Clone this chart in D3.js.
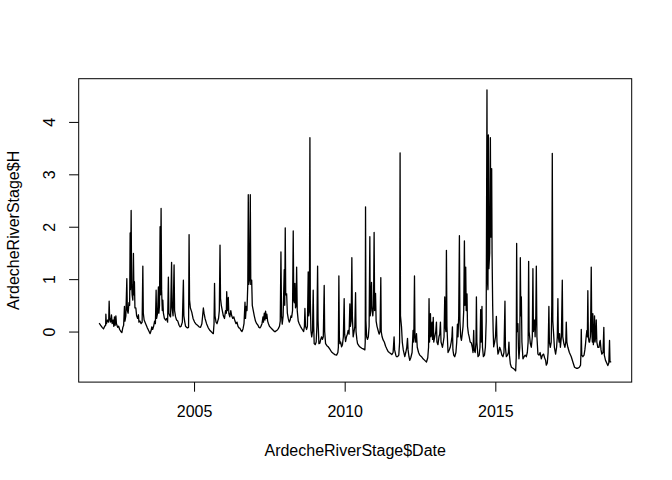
<meta charset="utf-8">
<title>Ardeche River Stage</title>
<script src="https://d3js.org/d3.v7.min.js"></script>
<style>
  body { margin: 0; background: #fff; }
  svg { display: block; font-family: "Liberation Sans", Arial, Helvetica, sans-serif; }
</style>
<body>
<svg width="672" height="480"></svg>
<script>

  // daily stage of the Ardeche (decimal years, metres)
  const dates = [
    2001.851, 2001.901, 2001.950, 2001.994, 2002.033, 2002.066, 2002.073, 2002.090, 2002.133, 2002.166,
    2002.182, 2002.199, 2002.232, 2002.259, 2002.282, 2002.315, 2002.338, 2002.358, 2002.381, 2002.405,
    2002.425, 2002.464, 2002.497, 2002.531, 2002.570, 2002.604, 2002.637, 2002.663, 2002.690, 2002.706,
    2002.736, 2002.769, 2002.786, 2002.812, 2002.839, 2002.862, 2002.879, 2002.889, 2002.912, 2002.928,
    2002.945, 2002.968, 2002.988, 2003.005, 2003.021, 2003.038, 2003.068, 2003.094, 2003.127, 2003.154,
    2003.170, 2003.204, 2003.243, 2003.277, 2003.300, 2003.316, 2003.343, 2003.393, 2003.442, 2003.492,
    2003.542, 2003.575, 2003.598, 2003.625, 2003.658, 2003.691, 2003.717, 2003.741, 2003.757, 2003.790,
    2003.817, 2003.833, 2003.853, 2003.873, 2003.886, 2003.906, 2003.923, 2003.946, 2003.963, 2003.983,
    2004.016, 2004.056, 2004.089, 2004.122, 2004.148, 2004.165, 2004.195, 2004.221, 2004.254, 2004.271,
    2004.304, 2004.337, 2004.354, 2004.387, 2004.420, 2004.460, 2004.503, 2004.536, 2004.569, 2004.612,
    2004.646, 2004.662, 2004.692,
    2004.719, 2004.752, 2004.785, 2004.818, 2004.835, 2004.851, 2004.878, 2004.924, 2004.967, 2005.017,
    2005.067, 2005.116, 2005.166, 2005.216, 2005.259, 2005.285, 2005.309, 2005.332, 2005.365, 2005.415,
    2005.464, 2005.514, 2005.564, 2005.614, 2005.640, 2005.663, 2005.680, 2005.696, 2005.730, 2005.763,
    2005.786, 2005.812, 2005.839, 2005.862, 2005.879, 2005.905, 2005.938, 2005.972, 2006.011, 2006.045,
    2006.071, 2006.084, 2006.104, 2006.137, 2006.154, 2006.187, 2006.220, 2006.250, 2006.286, 2006.320,
    2006.359, 2006.393, 2006.426, 2006.459, 2006.492, 2006.525, 2006.558, 2006.591, 2006.625, 2006.658,
    2006.691, 2006.708, 2006.734, 2006.757, 2006.784, 2006.800, 2006.817, 2006.843, 2006.867, 2006.883,
    2006.913, 2006.933, 2006.966, 2006.999, 2007.039, 2007.079, 2007.122, 2007.155, 2007.188, 2007.221,
    2007.255, 2007.288, 2007.304, 2007.331, 2007.354, 2007.374, 2007.397, 2007.417, 2007.443, 2007.470,
    2007.503, 2007.536, 2007.586, 2007.636, 2007.669,
    2007.702, 2007.735, 2007.768, 2007.801, 2007.835, 2007.861, 2007.884, 2007.904, 2007.927, 2007.957,
    2007.994, 2008.010, 2008.027, 2008.043, 2008.073, 2008.097, 2008.126, 2008.159, 2008.189, 2008.216,
    2008.239, 2008.269, 2008.292, 2008.309, 2008.329, 2008.348, 2008.368, 2008.388, 2008.405, 2008.425,
    2008.458, 2008.491, 2008.531, 2008.571, 2008.604, 2008.637, 2008.663, 2008.680, 2008.700, 2008.736,
    2008.763, 2008.789, 2008.806, 2008.829, 2008.846, 2008.859, 2008.879, 2008.905, 2008.932, 2008.955,
    2008.972, 2008.988, 2009.021, 2009.054, 2009.078, 2009.101, 2009.117, 2009.144, 2009.177, 2009.204,
    2009.234, 2009.260, 2009.290, 2009.320, 2009.336, 2009.366, 2009.409, 2009.452, 2009.502, 2009.565,
    2009.625, 2009.674, 2009.731, 2009.774, 2009.790, 2009.807, 2009.824, 2009.840, 2009.867, 2009.897,
    2009.926, 2009.956, 2009.983, 2009.999, 2010.029, 2010.059, 2010.089, 2010.115, 2010.145, 2010.172,
    2010.188, 2010.215, 2010.238, 2010.255, 2010.281, 2010.311, 2010.337, 2010.361, 2010.377, 2010.404,
    2010.427, 2010.470, 2010.520, 2010.570, 2010.619, 2010.669,
    2010.682, 2010.692, 2010.705, 2010.729, 2010.755, 2010.785, 2010.811, 2010.835, 2010.848, 2010.868,
    2010.891, 2010.908, 2010.934, 2010.957, 2010.977, 2010.994, 2011.024, 2011.044, 2011.073, 2011.110,
    2011.143, 2011.173, 2011.199, 2011.213, 2011.242, 2011.276, 2011.315, 2011.358, 2011.398, 2011.441,
    2011.481, 2011.524, 2011.564, 2011.607, 2011.640, 2011.657, 2011.697, 2011.720, 2011.756, 2011.796,
    2011.823, 2011.839, 2011.852, 2011.886, 2011.912, 2011.945, 2011.972, 2011.995, 2012.028, 2012.061,
    2012.085, 2012.104, 2012.134, 2012.161, 2012.194, 2012.237, 2012.270, 2012.293, 2012.317, 2012.333,
    2012.360, 2012.383, 2012.409, 2012.452, 2012.492, 2012.549, 2012.602, 2012.658, 2012.714, 2012.757,
    2012.784, 2012.800, 2012.817, 2012.847, 2012.863, 2012.883, 2012.900, 2012.917, 2012.940, 2012.956,
    2012.989, 2013.023, 2013.046, 2013.062, 2013.096, 2013.129, 2013.155, 2013.178, 2013.198, 2013.222,
    2013.245, 2013.275, 2013.298, 2013.321, 2013.338, 2013.361, 2013.377, 2013.394, 2013.430, 2013.470,
    2013.503, 2013.536, 2013.560, 2013.576, 2013.593, 2013.619, 2013.652,
    2013.692, 2013.719, 2013.742, 2013.762, 2013.785, 2013.808, 2013.825, 2013.851, 2013.875, 2013.901,
    2013.928, 2013.951, 2013.974, 2013.991, 2014.017, 2014.034, 2014.060, 2014.077, 2014.107, 2014.133,
    2014.166, 2014.206, 2014.236, 2014.259, 2014.282, 2014.299, 2014.332, 2014.359, 2014.372, 2014.388,
    2014.425, 2014.465, 2014.491, 2014.514, 2014.531, 2014.557, 2014.574, 2014.604, 2014.640, 2014.670,
    2014.697, 2014.723, 2014.736, 2014.756, 2014.770, 2014.786, 2014.813, 2014.836, 2014.852, 2014.879,
    2014.892, 2014.912, 2014.929, 2014.945, 2014.978, 2015.005, 2015.035, 2015.055, 2015.088, 2015.118,
    2015.144, 2015.177, 2015.217, 2015.254, 2015.287, 2015.320, 2015.336, 2015.366, 2015.403, 2015.433,
    2015.452, 2015.469, 2015.499, 2015.535, 2015.585, 2015.632, 2015.675, 2015.694, 2015.708, 2015.724,
    2015.751, 2015.767, 2015.784, 2015.811, 2015.830, 2015.847, 2015.864, 2015.883, 2015.917, 2015.956,
    2015.990, 2016.029, 2016.062, 2016.089, 2016.106, 2016.122, 2016.162, 2016.195, 2016.228, 2016.248,
    2016.265, 2016.304, 2016.321, 2016.344, 2016.361, 2016.381, 2016.414, 2016.454, 2016.487, 2016.527,
    2016.563, 2016.603, 2016.636,
    2016.669, 2016.692, 2016.725, 2016.752, 2016.778, 2016.795, 2016.825, 2016.855, 2016.875, 2016.891,
    2016.908, 2016.934, 2016.961, 2017.001, 2017.034, 2017.057, 2017.077, 2017.093, 2017.117, 2017.133,
    2017.160, 2017.193, 2017.223, 2017.239, 2017.276, 2017.309, 2017.339, 2017.355, 2017.375, 2017.408,
    2017.458, 2017.521, 2017.574, 2017.630, 2017.687, 2017.740, 2017.790, 2017.829, 2017.843, 2017.853,
    2017.869, 2017.906, 2017.945, 2017.972, 2017.995, 2018.015, 2018.038, 2018.055, 2018.071, 2018.088,
    2018.111, 2018.128, 2018.154, 2018.167, 2018.184, 2018.201, 2018.221, 2018.237, 2018.254, 2018.277,
    2018.293, 2018.310, 2018.330, 2018.350, 2018.370, 2018.403, 2018.443, 2018.466, 2018.482, 2018.509,
    2018.535, 2018.575, 2018.602, 2018.618, 2018.658, 2018.698, 2018.734, 2018.767, 2018.791, 2018.807,
    2018.847
  ]

  const stage = [
    0.16, 0.12, 0.08, 0.05, 0.10, 0.12, 0.33, 0.15, 0.22, 0.18,
    0.58, 0.25, 0.18, 0.32, 0.15, 0.22, 0.10, 0.28, 0.12, 0.30,
    0.15, 0.08, 0.10, 0.04, 0.00, -0.02, 0.08, 0.12, 0.48, 0.20,
    0.30, 1.01, 0.40, 0.35, 0.55, 0.50, 1.88, 0.80, 2.31, 0.90,
    0.70, 0.60, 1.49, 0.70, 0.95, 0.45, 0.45, 0.30, 0.25, 0.32,
    0.18, 0.20, 0.15, 0.18, 1.25, 0.35, 0.22, 0.15, 0.08, 0.02,
    -0.04, 0.02, 0.09, 0.04, 0.10, 0.20, 0.15, 0.79, 0.25, 0.35,
    0.85, 0.35, 0.50, 2.00, 0.70, 2.35, 0.80, 0.40, 0.60, 0.35,
    0.25, 0.22, 0.25, 0.18, 1.04, 0.35, 0.30, 0.28, 1.32, 0.45,
    0.30, 1.27, 0.40, 0.28, 0.22, 0.20, 0.12, 0.09, 0.10, 0.18,
    0.98, 0.30, 0.18,
    0.10, 0.08, 0.07, 0.08, 1.85, 0.60, 0.45, 0.37, 0.25, 0.18,
    0.14, 0.12, 0.09, 0.08, 0.15, 0.30, 0.45, 0.35, 0.25, 0.15,
    0.08, 0.03, 0.00, -0.03, -0.04, 0.15, 0.92, 0.30, 0.18, 0.15,
    0.20, 0.25, 0.40, 1.65, 0.63, 0.50, 0.40, 0.30, 0.25, 0.40,
    0.35, 0.76, 0.40, 0.65, 0.35, 0.28, 0.40, 0.30, 0.25, 0.28,
    0.20, 0.15, 0.18, 0.10, 0.07, 0.06, 0.02, 0.00, 0.05, 0.15,
    0.56, 0.25, 0.48, 0.40, 0.90, 2.61, 0.90, 1.00, 2.61, 0.90,
    0.98, 0.50, 0.40, 0.30, 0.20, 0.15, 0.12, 0.08, 0.07, 0.10,
    0.15, 0.28, 0.18, 0.35, 0.22, 0.39, 0.25, 0.33, 0.20, 0.15,
    0.10, 0.08, 0.05, 0.02, 0.00,
    0.00, 0.02, 0.03, 0.06, 0.10, 0.20, 1.52, 0.30, 0.14, 0.30,
    1.18, 0.50, 1.98, 0.70, 0.72, 0.35, 0.25, 0.18, 0.22, 0.30,
    0.27, 0.40, 1.92, 0.60, 0.55, 0.92, 0.45, 0.50, 1.23, 0.40,
    0.20, 0.15, 0.10, 0.06, 0.03, 0.00, 0.10, 0.44, 0.10, 0.04,
    0.10, 1.14, 0.30, 0.40, 3.70, 0.60, 0.02, -0.10, 0.00, 0.79,
    0.10, -0.23, -0.25, -0.20, 0.10, 1.25, 0.20, -0.23, -0.22, -0.15,
    -0.10, -0.15, -0.10, 0.88, 0.00, -0.23, -0.27, -0.29, -0.33, -0.39,
    -0.42, -0.44, -0.45, -0.40, -0.30, 1.06, -0.10, -0.23, -0.20, -0.29,
    -0.25, -0.10, 0.63, -0.05, -0.19, -0.10, -0.05, 0.02, -0.05, 0.53,
    0.10, 0.20, 1.41, 0.30, -0.10, 0.00, 0.10, 0.74, 0.00, -0.15,
    -0.23, -0.27, -0.30, -0.32, -0.33, -0.35,
    -0.20, 2.38, 0.20, -0.10, -0.15, -0.10, 0.10, 1.81, 0.30, 0.50,
    0.94, 0.40, 0.30, 0.50, 1.89, 0.40, 0.73, 0.20, 0.10, 0.02,
    -0.05, 0.00, 1.03, 0.00, -0.10, -0.16, -0.20, -0.28, -0.33, -0.38,
    -0.40, -0.42, -0.44, -0.40, -0.10, -0.35, -0.45, -0.48, -0.48, -0.45,
    -0.20, 3.41, 0.30, 0.09, -0.20, -0.35, -0.42, -0.48, -0.40, -0.30,
    -0.13, -0.35, -0.48, -0.55, -0.50, -0.40, 0.02, -0.20, 1.06, -0.10,
    -0.20, -0.04, -0.30, -0.40, -0.45, -0.48, -0.52, -0.55, -0.58, -0.50,
    -0.30, 0.63, -0.20, 0.34, -0.10, 0.00, 0.18, -0.15, 0.27, -0.20,
    -0.10, 0.00, 0.18, -0.20, -0.25, -0.10, -0.05, 0.18, -0.20, -0.25,
    -0.30, -0.20, -0.10, 0.66, 0.10, 0.00, 1.55, 0.10, -0.40, -0.35,
    -0.30, -0.20, -0.10, 0.09, -0.35, -0.45, -0.48,
    -0.40, -0.20, 0.14, -0.10, 0.30, 1.83, 0.20, -0.10, -0.17, -0.05,
    0.10, 0.40, 1.73, 0.50, 1.23, 0.40, 0.72, 0.10, -0.04, -0.10,
    -0.20, -0.22, -0.30, -0.40, 0.02, -0.35, -0.40, -0.20, 0.66, -0.20,
    -0.48, -0.45, -0.30, 0.42, -0.20, 0.48, -0.30, -0.48, -0.45, -0.30,
    0.20, 4.61, 1.00, 0.80, 3.75, 1.20, 1.50, 3.70, 1.80, 3.11,
    1.49, 0.50, 0.00, -0.29, -0.20, -0.10, 0.29, -0.20, -0.43, -0.38,
    -0.30, -0.35, -0.45, -0.48, -0.40, 0.58, -0.30, -0.48, -0.45, -0.40,
    -0.20, -0.45, -0.62, -0.68, -0.70, -0.72, -0.75, -0.50, 1.68, 0.00,
    0.15, -0.30, -0.52, -0.30, 1.41, 0.30, 0.66, -0.20, -0.52, -0.48,
    -0.45, -0.48, -0.40, -0.20, 1.34, 0.00, -0.23, -0.30, -0.10, 1.20,
    0.00, 0.22, -0.10, 0.30, 1.25, -0.10, -0.43, -0.45, -0.40, -0.52,
    -0.45, -0.43, -0.50,
    -0.55, -0.64, -0.60, -0.40, 0.48, -0.20, -0.30, -0.20, 0.50, 3.40,
    0.20, -0.04, -0.30, -0.43, -0.30, -0.10, 0.63, -0.10, -0.20, -0.04,
    -0.30, -0.10, 0.98, -0.10, -0.23, -0.30, -0.20, 0.18, -0.20, -0.30,
    -0.40, -0.48, -0.58, -0.68, -0.70, -0.70, -0.68, -0.64, -0.40, 0.04,
    -0.45, -0.48, -0.45, -0.35, -0.23, -0.10, 0.02, -0.10, 0.78, -0.10,
    -0.20, -0.20, -0.10, 0.30, 1.23, 0.00, -0.20, 0.34, -0.25, -0.10,
    0.30, -0.20, -0.10, 0.22, -0.20, -0.30, -0.30, -0.20, -0.17, -0.35,
    -0.43, -0.40, 0.08, -0.45, -0.55, -0.60, -0.65, -0.60, -0.17, -0.58,
    -0.58
  ]

  if (dates.length !== stage.length) throw new Error(`length mismatch ${dates.length} vs ${stage.length}`)

  const xTicks = [2005, 2010, 2015]
  const yTicks = [0, 1, 2, 3, 4]
  const xLabel = 'ArdecheRiverStage$Date'
  const yLabel = 'ArdecheRiverStage$H'

  // R's plot region: mar = c(5.1, 4.1, 4.1, 2.1) lines of 19.2px
  const W = 672, H = 480,
        mLeft = 78.7, mRight = 631.7, mTop = 78.7, mBottom = 382.1

  // R pads the data range by 4% on each side
  const pad = ([lo, hi]) => [lo - (hi - lo) * 0.04, hi + (hi - lo) * 0.04]

  const x = d3.scaleLinear().domain(pad(d3.extent(dates))).range([mLeft, mRight])
  const y = d3.scaleLinear().domain(pad(d3.extent(stage))).range([mBottom, mTop])

  const svg = d3.select('svg')

  svg.append('rect')
    .attr('width', W).attr('height', H)
    .attr('fill', '#fff')

  const line = d3.line()
    .x((d, i) => x(dates[i]))
    .y(d => y(d))

  // daily data is dense, so the trace reads a little heavier than 1px
  svg.append('path')
    .datum(stage)
    .attr('fill', 'none')
    .attr('stroke', '#000')
    .attr('stroke-width', 1.3)
    .attr('stroke-linejoin', 'round')
    .attr('d', line)

  // box
  svg.append('rect')
    .attr('x', mLeft).attr('y', mTop)
    .attr('width', mRight - mLeft).attr('height', mBottom - mTop)
    .attr('fill', 'none').attr('stroke', '#000').attr('stroke-width', 1)

  svg.append('g')
    .attr('transform', `translate(0,${mBottom})`)
    .call(d3.axisBottom(x).tickValues(xTicks).tickFormat(d3.format('d'))
      .tickSize(9.6).tickSizeOuter(0).tickPadding(14.4))

  const yAxis = svg.append('g')
    .attr('transform', `translate(${mLeft},0)`)
    .call(d3.axisLeft(y).tickValues(yTicks).tickFormat(d3.format('d'))
      .tickSize(9.6).tickSizeOuter(0))

  svg.selectAll('.domain').remove()
  svg.selectAll('.tick line').attr('stroke', '#000')
  svg.selectAll('.tick text')
    .attr('fill', '#000')
    .style('font-size', '16px')
    .style('font-family', '"Liberation Sans", Arial, Helvetica, sans-serif')

  // y labels run along the axis, like R's las = 0
  yAxis.selectAll('.tick text')
    .attr('x', null).attr('dy', null)
    .attr('text-anchor', 'middle')
    .attr('transform', `translate(${55 - mLeft},0) rotate(-90)`)

  svg.append('text')
    .attr('x', (mLeft + mRight) / 2).attr('y', 455.5)
    .attr('text-anchor', 'middle')
    .style('font-size', '16px')
    .text(xLabel)

  svg.append('text')
    .attr('transform', `translate(19,${(mTop + mBottom) / 2}) rotate(-90)`)
    .attr('text-anchor', 'middle')
    .style('font-size', '16px')
    .text(yLabel)

</script>
</body>
